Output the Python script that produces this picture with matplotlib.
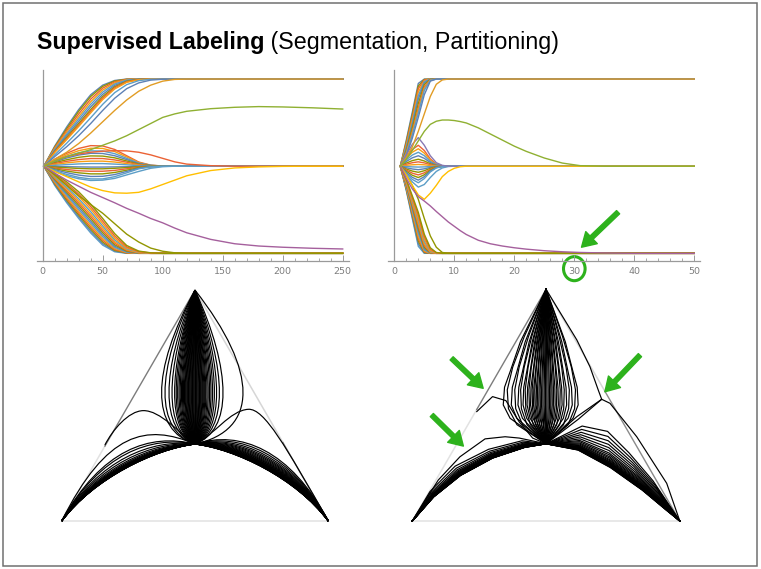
import matplotlib
matplotlib.use("Agg")
import matplotlib.pyplot as plt
from matplotlib.path import Path
from matplotlib.patches import PathPatch, Ellipse, Rectangle

W, H, DPI = 761, 569, 100

TITLE_BOLD = "Supervised Labeling"
TITLE_REST = "(Segmentation, Partitioning)"

# Mathematica default plot colours
PALETTE = ['#5E81B5', '#E19C24', '#8FB032', '#EB6235', '#8778B3', '#C56E1A',
           '#5D9EC7', '#FFBF00', '#A5609D', '#929600', '#E95536', '#6685D9',
           '#F89F13', '#BC5B80', '#47B66D']

# ---------------- smooth run: 250 iterations ----------------
TL_T_FAST = [1, 10, 20, 30, 40, 50, 60, 70, 80, 90, 100, 250]
TL_T_SLOW = [1, 10, 20, 30, 40, 50, 60, 70, 80, 90, 100, 110, 120, 140, 160, 180, 200, 225, 250]
TL_TICKS_MAJOR = [0, 50, 100, 150, 200, 250]
TL_TICKS_MINOR = [10, 20, 30, 40, 60, 70, 80, 90, 110, 120, 130, 140, 160, 170, 180, 190, 210, 220, 230, 240]

TL_UPPER = [
    [0.5, 0.615, 0.725, 0.825, 0.910, 0.965, 0.992, 1.000, 1.000, 1.000, 1.000, 1.000],
    [0.5, 0.610, 0.715, 0.815, 0.900, 0.958, 0.989, 0.999, 1.000, 1.000, 1.000, 1.000],
    [0.5, 0.605, 0.705, 0.800, 0.885, 0.948, 0.984, 0.998, 1.000, 1.000, 1.000, 1.000],
    [0.5, 0.600, 0.695, 0.785, 0.870, 0.937, 0.978, 0.996, 1.000, 1.000, 1.000, 1.000],
    [0.5, 0.595, 0.685, 0.772, 0.855, 0.925, 0.972, 0.994, 1.000, 1.000, 1.000, 1.000],
    [0.5, 0.590, 0.675, 0.758, 0.840, 0.912, 0.964, 0.990, 0.999, 1.000, 1.000, 1.000],
    [0.5, 0.585, 0.665, 0.745, 0.825, 0.900, 0.956, 0.987, 0.998, 1.000, 1.000, 1.000],
    [0.5, 0.582, 0.658, 0.736, 0.815, 0.891, 0.950, 0.984, 0.997, 1.000, 1.000, 1.000],
    [0.5, 0.578, 0.652, 0.728, 0.806, 0.882, 0.943, 0.981, 0.996, 1.000, 1.000, 1.000],
    [0.5, 0.565, 0.632, 0.703, 0.778, 0.855, 0.922, 0.968, 0.991, 0.999, 1.000, 1.000],
    [0.5, 0.555, 0.612, 0.675, 0.745, 0.820, 0.890, 0.945, 0.978, 0.994, 0.999, 1.000],
]
TL_MIDDLE = [
    [0.5, 0.540, 0.574, 0.602, 0.618, 0.616, 0.596, 0.560, 0.524, 0.506, 0.501, 0.5],
    [0.5, 0.535, 0.565, 0.589, 0.603, 0.602, 0.584, 0.553, 0.521, 0.505, 0.501, 0.5],
    [0.5, 0.530, 0.556, 0.577, 0.588, 0.587, 0.572, 0.545, 0.518, 0.505, 0.501, 0.5],
    [0.5, 0.525, 0.547, 0.564, 0.574, 0.573, 0.560, 0.538, 0.515, 0.504, 0.500, 0.5],
    [0.5, 0.520, 0.537, 0.551, 0.559, 0.558, 0.548, 0.530, 0.512, 0.503, 0.500, 0.5],
    [0.5, 0.515, 0.528, 0.538, 0.544, 0.544, 0.536, 0.523, 0.509, 0.502, 0.500, 0.5],
    [0.5, 0.510, 0.519, 0.526, 0.529, 0.529, 0.524, 0.515, 0.506, 0.502, 0.500, 0.5],
    [0.5, 0.505, 0.509, 0.513, 0.515, 0.515, 0.512, 0.508, 0.503, 0.501, 0.500, 0.5],
    [0.5, 0.498, 0.497, 0.496, 0.495, 0.495, 0.496, 0.497, 0.499, 0.500, 0.500, 0.5],
    [0.5, 0.495, 0.491, 0.487, 0.485, 0.485, 0.488, 0.492, 0.497, 0.499, 0.500, 0.5],
    [0.5, 0.490, 0.481, 0.474, 0.471, 0.471, 0.476, 0.485, 0.494, 0.498, 0.500, 0.5],
    [0.5, 0.485, 0.472, 0.462, 0.456, 0.456, 0.464, 0.477, 0.491, 0.498, 0.500, 0.5],
    [0.5, 0.480, 0.463, 0.449, 0.441, 0.442, 0.452, 0.470, 0.488, 0.497, 0.500, 0.5],
    [0.5, 0.475, 0.453, 0.436, 0.427, 0.427, 0.440, 0.462, 0.485, 0.496, 0.500, 0.5],
]
TL_LOWER = [
    [0.5, 0.390, 0.290, 0.200, 0.117, 0.047, 0.009, 0.000, 0.000, 0.000, 0.0, 0.0],
    [0.5, 0.395, 0.298, 0.210, 0.128, 0.056, 0.013, 0.001, 0.000, 0.000, 0.0, 0.0],
    [0.5, 0.400, 0.306, 0.220, 0.139, 0.065, 0.017, 0.002, 0.000, 0.000, 0.0, 0.0],
    [0.5, 0.405, 0.315, 0.230, 0.150, 0.075, 0.022, 0.003, 0.000, 0.000, 0.0, 0.0],
    [0.5, 0.410, 0.324, 0.241, 0.162, 0.085, 0.028, 0.005, 0.000, 0.000, 0.0, 0.0],
    [0.5, 0.415, 0.333, 0.252, 0.174, 0.096, 0.034, 0.007, 0.001, 0.000, 0.0, 0.0],
    [0.5, 0.420, 0.342, 0.264, 0.186, 0.107, 0.041, 0.010, 0.001, 0.000, 0.0, 0.0],
    [0.5, 0.425, 0.351, 0.276, 0.199, 0.119, 0.049, 0.013, 0.002, 0.000, 0.0, 0.0],
    [0.5, 0.430, 0.360, 0.288, 0.212, 0.131, 0.058, 0.017, 0.003, 0.000, 0.0, 0.0],
    [0.5, 0.435, 0.370, 0.300, 0.225, 0.144, 0.067, 0.021, 0.004, 0.000, 0.0, 0.0],
    [0.5, 0.440, 0.379, 0.313, 0.239, 0.157, 0.077, 0.026, 0.006, 0.001, 0.0, 0.0],
    [0.5, 0.446, 0.390, 0.327, 0.254, 0.171, 0.088, 0.031, 0.008, 0.001, 0.0, 0.0],
    [0.5, 0.452, 0.400, 0.340, 0.268, 0.185, 0.100, 0.037, 0.010, 0.002, 0.0, 0.0],
    [0.5, 0.458, 0.410, 0.353, 0.282, 0.200, 0.113, 0.045, 0.013, 0.003, 0.0, 0.0],
]
TL_SLOW_ORANGE = [0.5, 0.54, 0.58, 0.63, 0.69, 0.755, 0.82, 0.88, 0.93, 0.965, 0.988, 0.998, 1.0, 1.0, 1.0, 1.0, 1.0, 1.0, 1.0]
TL_SLOW_GREEN = [0.5, 0.53, 0.555, 0.575, 0.595, 0.62, 0.645, 0.675, 0.71, 0.745, 0.78, 0.80, 0.815, 0.83, 0.838, 0.842, 0.84, 0.835, 0.828]
TL_BUMP_RED = [0.5, 0.53, 0.555, 0.57, 0.58, 0.586, 0.589, 0.588, 0.58, 0.565, 0.545, 0.525, 0.512, 0.503, 0.5, 0.5, 0.5, 0.5, 0.5]
TL_DIP_BLUE = [0.5, 0.47, 0.445, 0.428, 0.418, 0.42, 0.43, 0.45, 0.47, 0.488, 0.497, 0.5, 0.5, 0.5, 0.5, 0.5, 0.5, 0.5, 0.5]
TL_DIP_YELLOW = [0.5, 0.47, 0.44, 0.41, 0.38, 0.36, 0.347, 0.345, 0.35, 0.37, 0.395, 0.42, 0.445, 0.475, 0.49, 0.496, 0.499, 0.5, 0.5]
TL_SLOW_MAGENTA = [0.5, 0.46, 0.42, 0.385, 0.35, 0.32, 0.29, 0.258, 0.23, 0.2, 0.175, 0.145, 0.118, 0.08, 0.055, 0.042, 0.035, 0.029, 0.025]
TL_SLOW_OLIVE = [0.5, 0.45, 0.39, 0.33, 0.28, 0.23, 0.17, 0.11, 0.065, 0.03, 0.012, 0.003, 0.0, 0.0, 0.0, 0.0, 0.0, 0.0, 0.0]

# ---------------- discrete run: 50 iterations ----------------
TR_T_FAST = [1, 2, 3, 4, 5, 6, 7, 8, 9, 10, 50]
TR_T_SLOW = [1, 2, 3, 4, 5, 6, 7, 8, 9, 10, 11, 12, 14, 16, 18, 20, 22, 25, 28, 31, 35, 40, 50]
TR_TICKS_MAJOR = [0, 10, 20, 30, 40, 50]
TR_TICKS_MINOR = [2, 4, 6, 8, 12, 14, 16, 18, 22, 24, 26, 28, 32, 34, 36, 38, 42, 44, 46, 48]

TR_UPPER = [
    [0.5, 0.65, 0.81, 0.975, 1.0, 1.0, 1.0, 1.0, 1.0, 1.0, 1.0],
    [0.5, 0.64, 0.795, 0.96, 0.998, 1.0, 1.0, 1.0, 1.0, 1.0, 1.0],
    [0.5, 0.63, 0.78, 0.945, 0.995, 1.0, 1.0, 1.0, 1.0, 1.0, 1.0],
    [0.5, 0.62, 0.765, 0.925, 0.99, 1.0, 1.0, 1.0, 1.0, 1.0, 1.0],
    [0.5, 0.61, 0.75, 0.905, 0.985, 1.0, 1.0, 1.0, 1.0, 1.0, 1.0],
    [0.5, 0.60, 0.735, 0.885, 0.978, 0.999, 1.0, 1.0, 1.0, 1.0, 1.0],
    [0.5, 0.59, 0.72, 0.86, 0.968, 0.998, 1.0, 1.0, 1.0, 1.0, 1.0],
    [0.5, 0.58, 0.70, 0.835, 0.955, 0.996, 1.0, 1.0, 1.0, 1.0, 1.0],
    [0.5, 0.575, 0.69, 0.82, 0.945, 0.994, 1.0, 1.0, 1.0, 1.0, 1.0],
    [0.5, 0.57, 0.68, 0.805, 0.935, 0.993, 1.0, 1.0, 1.0, 1.0, 1.0],
    [0.5, 0.56, 0.66, 0.78, 0.91, 0.988, 1.0, 1.0, 1.0, 1.0, 1.0],
]
TR_MIDDLE = [
    [0.5, 0.554, 0.596, 0.620, 0.590, 0.542, 0.512, 0.502, 0.5, 0.5, 0.5],
    [0.5, 0.545, 0.580, 0.600, 0.575, 0.535, 0.510, 0.502, 0.5, 0.5, 0.5],
    [0.5, 0.536, 0.564, 0.580, 0.560, 0.528, 0.508, 0.502, 0.5, 0.5, 0.5],
    [0.5, 0.527, 0.548, 0.560, 0.545, 0.521, 0.506, 0.501, 0.5, 0.5, 0.5],
    [0.5, 0.518, 0.532, 0.540, 0.530, 0.514, 0.504, 0.501, 0.5, 0.5, 0.5],
    [0.5, 0.511, 0.520, 0.525, 0.519, 0.509, 0.503, 0.500, 0.5, 0.5, 0.5],
    [0.5, 0.505, 0.508, 0.510, 0.508, 0.504, 0.501, 0.500, 0.5, 0.5, 0.5],
    [0.5, 0.498, 0.496, 0.495, 0.496, 0.498, 0.500, 0.500, 0.5, 0.5, 0.5],
    [0.5, 0.491, 0.484, 0.480, 0.485, 0.493, 0.498, 0.500, 0.5, 0.5, 0.5],
    [0.5, 0.484, 0.472, 0.465, 0.474, 0.488, 0.497, 0.499, 0.5, 0.5, 0.5],
    [0.5, 0.478, 0.460, 0.450, 0.462, 0.482, 0.495, 0.499, 0.5, 0.5, 0.5],
    [0.5, 0.471, 0.448, 0.435, 0.451, 0.477, 0.493, 0.499, 0.5, 0.5, 0.5],
    [0.5, 0.464, 0.436, 0.420, 0.440, 0.472, 0.492, 0.498, 0.5, 0.5, 0.5],
    [0.5, 0.457, 0.424, 0.405, 0.429, 0.467, 0.490, 0.498, 0.5, 0.5, 0.5],
]
TR_LOWER = [
    [0.5, 0.360, 0.200, 0.040, 0.000, 0.000, 0.000, 0.0, 0.0, 0.0, 0.0],
    [0.5, 0.365, 0.210, 0.055, 0.002, 0.000, 0.000, 0.0, 0.0, 0.0, 0.0],
    [0.5, 0.370, 0.220, 0.070, 0.005, 0.000, 0.000, 0.0, 0.0, 0.0, 0.0],
    [0.5, 0.375, 0.230, 0.085, 0.009, 0.000, 0.000, 0.0, 0.0, 0.0, 0.0],
    [0.5, 0.380, 0.240, 0.100, 0.014, 0.000, 0.000, 0.0, 0.0, 0.0, 0.0],
    [0.5, 0.385, 0.250, 0.115, 0.020, 0.001, 0.000, 0.0, 0.0, 0.0, 0.0],
    [0.5, 0.390, 0.260, 0.130, 0.027, 0.002, 0.000, 0.0, 0.0, 0.0, 0.0],
    [0.5, 0.395, 0.270, 0.145, 0.035, 0.003, 0.000, 0.0, 0.0, 0.0, 0.0],
    [0.5, 0.400, 0.280, 0.160, 0.045, 0.005, 0.000, 0.0, 0.0, 0.0, 0.0],
    [0.5, 0.405, 0.290, 0.175, 0.056, 0.008, 0.000, 0.0, 0.0, 0.0, 0.0],
    [0.5, 0.410, 0.300, 0.190, 0.068, 0.012, 0.001, 0.0, 0.0, 0.0, 0.0],
    [0.5, 0.415, 0.310, 0.205, 0.082, 0.017, 0.002, 0.0, 0.0, 0.0, 0.0],
    [0.5, 0.420, 0.320, 0.220, 0.096, 0.024, 0.003, 0.0, 0.0, 0.0, 0.0],
    [0.5, 0.425, 0.330, 0.235, 0.110, 0.032, 0.005, 0.0, 0.0, 0.0, 0.0],
]
TR_SLOW_ORANGE = [0.5, 0.55, 0.61, 0.70, 0.80, 0.90, 0.97, 0.995, 1.0, 1.0, 1.0, 1.0, 1.0, 1.0, 1.0, 1.0, 1.0, 1.0, 1.0, 1.0, 1.0, 1.0, 1.0]
TR_SLOW_GREEN = [0.5, 0.54, 0.59, 0.645, 0.70, 0.74, 0.758, 0.765, 0.765, 0.762, 0.756, 0.748, 0.72, 0.685, 0.65, 0.615, 0.585, 0.547, 0.518, 0.503, 0.5, 0.5, 0.5]
TR_DIP_YELLOW = [0.5, 0.45, 0.39, 0.335, 0.31, 0.345, 0.39, 0.44, 0.47, 0.488, 0.497, 0.5, 0.5, 0.5, 0.5, 0.5, 0.5, 0.5, 0.5, 0.5, 0.5, 0.5, 0.5]
TR_SLOW_MAGENTA = [0.5, 0.43, 0.37, 0.325, 0.30, 0.272, 0.24, 0.21, 0.18, 0.155, 0.13, 0.108, 0.075, 0.055, 0.042, 0.032, 0.024, 0.015, 0.009, 0.005, 0.002, 0.0, 0.0]
TR_BUMP_PURPLE = [0.5, 0.565, 0.625, 0.664, 0.62, 0.56, 0.52, 0.505, 0.5, 0.5, 0.5]
TR_DIP_BLUE = [0.5, 0.45, 0.41, 0.38, 0.395, 0.435, 0.47, 0.49, 0.498, 0.5, 0.5]
TR_FAST_OLIVE = [0.5, 0.45, 0.39, 0.31, 0.20, 0.10, 0.035, 0.005, 0.0, 0.0, 0.0]

# ---------------- simplex trajectories (unit triangle) ----------------
VERT_L = (0.0, 0.0)
VERT_R = (1.0, 0.0)
VERT_T = (0.5, 0.866)
CENTER = (0.5, 0.2887)

# smooth run: spindle towards the top label (sideways bulge per trajectory)
LT_SPINDLE_W = [-0.167, -0.15, -0.13, -0.115, -0.102, -0.094, -0.087, -0.08, -0.074, -0.068,
                -0.063, -0.058, -0.053, -0.049, -0.045, -0.041, -0.037, -0.033, -0.029, -0.025,
                -0.021, -0.017, -0.013, -0.009, -0.005, -0.001, 0.003, 0.007, 0.011, 0.015,
                0.019, 0.023, 0.027, 0.031, 0.035, 0.039, 0.044, 0.049, 0.054, 0.06,
                0.066, 0.073, 0.08, 0.088, 0.097, 0.108, 0.122, 0.14, 0.24]
LT_SPINDLE_CTRL_Y = [0.34, 0.56]
# arches to the lower labels: low and high control polygons, with per-trajectory blend
LT_LBAND_LO = [(0.35, 0.27), (0.12, 0.16)]
LT_LBAND_HI = [(0.33, 0.33), (0.15, 0.27)]
LT_LBAND_S = [0.0, 0.005, 0.01, 0.015, 0.02, 0.025, 0.03, 0.035, 0.04, 0.045, 0.05, 0.055,
              0.06, 0.07, 0.08, 0.09, 0.1, 0.12, 0.14, 0.17, 0.2, 0.24, 0.3, 0.38, 0.5,
              0.65, 0.85, 1.0, 1.6]
LT_RBAND_LO = [(0.65, 0.27), (0.88, 0.16)]
LT_RBAND_HI = [(0.67, 0.34), (0.86, 0.26)]
LT_RBAND_S = [0.0, 0.007, 0.014, 0.021, 0.028, 0.035, 0.043, 0.051, 0.06, 0.07, 0.08, 0.09,
              0.1, 0.12, 0.14, 0.16, 0.18, 0.21, 0.24, 0.28, 0.32, 0.37, 0.42, 0.48, 0.55,
              0.62, 0.7, 0.8, 0.92, 1.05]
# two-piece Bezier outliers
LT_OUT_LEFT = [CENTER, (0.44, 0.33), (0.37, 0.415), (0.306, 0.414), (0.25, 0.413), (0.19, 0.34), (0.162, 0.285)]
LT_OUT_RIGHT = [CENTER, (0.57, 0.32), (0.63, 0.415), (0.70, 0.419), (0.76, 0.423), (0.84, 0.28), VERT_R]
LT_EDGE_JOIN_L = (0.162, 0.281)
LT_EDGE_JOIN_R = (0.83, 0.294)

# discrete run: polygonal trajectories (two step patterns used alternately)
RT_SPINDLE_Y = [[0.2887, 0.384, 0.434, 0.5, 0.558, 0.67, 0.866],
                [0.2887, 0.36, 0.42, 0.49, 0.575, 0.69, 0.866]]
RT_SPINDLE_F = [[0.0, 0.84, 1.0, 0.97, 0.84, 0.6, 0.0],
                [0.0, 0.75, 0.97, 1.0, 0.86, 0.56, 0.0]]
RT_SPINDLE_W = [-0.16, -0.145, -0.13, -0.117, -0.105, -0.095, -0.086, -0.078, -0.071, -0.064,
                -0.058, -0.052, -0.047, -0.042, -0.037, -0.032, -0.027, -0.022, -0.017, -0.012,
                -0.007, -0.002, 0.003, 0.008, 0.013, 0.018, 0.023, 0.028, 0.034, 0.04,
                0.046, 0.053, 0.06, 0.068, 0.077, 0.087, 0.098, 0.11, 0.12]
RT_LBAND_LO = [CENTER, (0.42, 0.275), (0.30, 0.235), (0.18, 0.17), (0.08, 0.09), VERT_L]
RT_LBAND_HI = [CENTER, (0.41, 0.30), (0.285, 0.268), (0.16, 0.205), (0.066, 0.11), VERT_L]
RT_LBAND_S = [0.0, 0.008, 0.016, 0.024, 0.032, 0.04, 0.05, 0.06, 0.07, 0.08, 0.09, 0.1,
              0.12, 0.14, 0.17, 0.2, 0.24, 0.29, 0.35, 0.42, 0.5, 0.62, 0.78, 1.0]
RT_RBAND_LO = [CENTER, (0.62, 0.265), (0.74, 0.2), (0.86, 0.115), (0.95, 0.04), VERT_R]
RT_RBAND_HI = [CENTER, (0.635, 0.355), (0.73, 0.335), (0.81, 0.255), (0.90, 0.15), VERT_R]
RT_RBAND_S = [0.0, 0.008, 0.016, 0.024, 0.032, 0.04, 0.05, 0.06, 0.07, 0.08, 0.09, 0.1,
              0.12, 0.14, 0.16, 0.19, 0.22, 0.26, 0.3, 0.35, 0.4, 0.47, 0.55, 0.64, 0.74,
              0.86, 1.0]
RT_OUTLIERS = [
    [CENTER, (0.45, 0.31), (0.40, 0.37), (0.35, 0.45), (0.30, 0.465), (0.241, 0.409)],
    [CENTER, (0.40, 0.31), (0.347, 0.315), (0.272, 0.307), (0.178, 0.24), (0.097, 0.153), VERT_L],
    [CENTER, (0.615, 0.39), (0.708, 0.455), (0.695, 0.49), (0.664, 0.577), (0.615, 0.677), VERT_T],
    [CENTER, (0.62, 0.38), (0.708, 0.455), (0.739, 0.44), (0.839, 0.315), (0.951, 0.141), VERT_R],
]
RT_EDGE_JOIN_L = (0.241, 0.417)
RT_EDGE_JOIN_R = (0.72, 0.485)

# annotation marks (in the coordinates of the panel they sit on)
ARROW_TR = ((37.3, 0.236), (31.2, 0.035))
RING_TR = (30.0, -0.088)
ARROWS_RT = [((0.147, 0.608), (0.265, 0.496)),
             ((0.073, 0.396), (0.191, 0.28)),
             ((0.851, 0.62), (0.72, 0.483))]

GREEN = '#2DB21C'
AXIS_GRAY = '#9a9a9a'
LABEL_GRAY = '#7d7d7d'
TRAJ_LW = 0.85

fig = plt.figure(figsize=(W / DPI, H / DPI), dpi=DPI)
fig.patch.set_facecolor('white')


def px_rect(x0, y0, x1, y1):
    return [x0 / W, 1 - y1 / H, (x1 - x0) / W, (y1 - y0) / H]


def style_series_axes(ax, xlim, major, minor):
    ax.set_xlim(*xlim)
    ax.set_ylim(-0.044, 1.052)
    ax.patch.set_alpha(0)
    for side in ('top', 'right'):
        ax.spines[side].set_visible(False)
    ax.spines['left'].set_position(('data', 0))
    for side in ('left', 'bottom'):
        ax.spines[side].set_color(AXIS_GRAY)
        ax.spines[side].set_linewidth(0.9)
    ax.tick_params(axis='y', left=False, labelleft=False)
    ax.set_xticks(major)
    ax.set_xticks(minor, minor=True)
    ax.tick_params(axis='x', which='major', direction='in', length=4, width=0.7,
                   color=AXIS_GRAY, labelsize=6.8, labelcolor=LABEL_GRAY, pad=4)
    ax.tick_params(axis='x', which='minor', direction='in', length=2.2, width=0.6,
                   color=AXIS_GRAY)


def draw_series(ax, t_fast, upper, middle, lower, specials):
    bundle = []
    n = max(len(upper), len(middle), len(lower))
    for i in range(n):
        for group in (upper, middle, lower):
            if i < len(group):
                bundle.append(group[i])
    for i, vals in enumerate(bundle):
        ax.plot(t_fast, vals, color=PALETTE[(3 * i) % len(PALETTE)], lw=1.0)
    for times, vals, color in specials:
        ax.plot(times, vals, color=color, lw=1.0)


ax_tl = fig.add_axes(px_rect(36.7, 70, 348.7, 261))
style_series_axes(ax_tl, (-5, 255), TL_TICKS_MAJOR, TL_TICKS_MINOR)
draw_series(ax_tl, TL_T_FAST, TL_UPPER, TL_MIDDLE, TL_LOWER, [
    (TL_T_SLOW, TL_SLOW_OLIVE, '#929600'),
    (TL_T_SLOW, TL_DIP_BLUE, '#5D9EC7'),
    (TL_T_SLOW, TL_BUMP_RED, '#EB6235'),
    (TL_T_SLOW, TL_SLOW_ORANGE, '#E19C24'),
    (TL_T_SLOW, TL_DIP_YELLOW, '#FFBF00'),
    (TL_T_SLOW, TL_SLOW_MAGENTA, '#A5609D'),
    (TL_T_SLOW, TL_SLOW_GREEN, '#8FB032'),
])

ax_tr = fig.add_axes(px_rect(388.3, 70, 700.3, 261))
style_series_axes(ax_tr, (-1, 51), TR_TICKS_MAJOR, TR_TICKS_MINOR)
draw_series(ax_tr, TR_T_FAST, TR_UPPER, TR_MIDDLE, TR_LOWER, [
    (TR_T_FAST, TR_FAST_OLIVE, '#929600'),
    (TR_T_FAST, TR_DIP_BLUE, '#5D9EC7'),
    (TR_T_FAST, TR_BUMP_PURPLE, '#8778B3'),
    (TR_T_SLOW, TR_SLOW_ORANGE, '#E19C24'),
    (TR_T_SLOW, TR_DIP_YELLOW, '#FFBF00'),
    (TR_T_SLOW, TR_SLOW_MAGENTA, '#A5609D'),
    (TR_T_SLOW, TR_SLOW_GREEN, '#8FB032'),
])

ring = Ellipse(RING_TR, width=3.6, height=0.138, fill=False, ec=GREEN, lw=2.2, clip_on=False)
ax_tr.add_patch(ring)


def green_arrow(ax, tail, head):
    ax.annotate('', xy=head, xytext=tail, xycoords='data', textcoords='data',
                annotation_clip=False,
                arrowprops=dict(arrowstyle='simple,head_width=1.2,head_length=1.0,tail_width=0.32',
                                color=GREEN, mutation_scale=10, shrinkA=0, shrinkB=0))


green_arrow(ax_tr, *ARROW_TR)


# ---- simplex panels ----
def simplex_axes(x_left, y_base, scale):
    pad = 0.03
    x0 = x_left - pad * scale
    x1 = x_left + (1 + pad) * scale
    y1 = y_base + pad * scale
    y0 = y_base - (0.866 + pad) * scale
    ax = fig.add_axes(px_rect(x0, y0, x1, y1))
    ax.set_xlim(-pad, 1 + pad)
    ax.set_ylim(-pad, 0.866 + pad)
    ax.axis('off')
    ax.patch.set_alpha(0)
    return ax


def draw_edges(ax, join_l, join_r):
    light, dark = '#e2e2e2', '#7c7c7c'
    ax.plot([VERT_L[0], VERT_R[0]], [VERT_L[1], VERT_R[1]], color=light, lw=1.1, zorder=1)
    ax.plot([VERT_L[0], join_l[0]], [VERT_L[1], join_l[1]], color=light, lw=1.1, zorder=1)
    ax.plot([join_l[0], VERT_T[0]], [join_l[1], VERT_T[1]], color=dark, lw=1.0, zorder=1)
    ax.plot([VERT_T[0], join_r[0]], [VERT_T[1], join_r[1]], color='#d6d6d6', lw=1.1, zorder=1)
    ax.plot([join_r[0], VERT_R[0]], [join_r[1], VERT_R[1]], color='#8a8a8a', lw=1.0, zorder=1)


def bezier(ax, pts):
    codes = [Path.MOVETO] + [Path.CURVE4] * (len(pts) - 1)
    ax.add_patch(PathPatch(Path(pts, codes), fill=False, ec='black', lw=TRAJ_LW, zorder=2))


def polyline(ax, pts):
    ax.plot([p[0] for p in pts], [p[1] for p in pts], color='black', lw=TRAJ_LW, zorder=2)


def blend(lo, hi, s):
    return [(a[0] + s * (b[0] - a[0]), a[1] + s * (b[1] - a[1])) for a, b in zip(lo, hi)]


ax_lt = simplex_axes(61.7, 521, 266.6)
draw_edges(ax_lt, LT_EDGE_JOIN_L, LT_EDGE_JOIN_R)
for w in LT_SPINDLE_W:
    bezier(ax_lt, [CENTER, (0.5 + w, LT_SPINDLE_CTRL_Y[0]), (0.5 + w, LT_SPINDLE_CTRL_Y[1]), VERT_T])
for s in LT_LBAND_S:
    bezier(ax_lt, [CENTER] + blend(LT_LBAND_LO, LT_LBAND_HI, s) + [VERT_L])
for s in LT_RBAND_S:
    bezier(ax_lt, [CENTER] + blend(LT_RBAND_LO, LT_RBAND_HI, s) + [VERT_R])
bezier(ax_lt, LT_OUT_LEFT)
bezier(ax_lt, LT_OUT_RIGHT)

ax_rt = simplex_axes(412.3, 521, 267.5)
draw_edges(ax_rt, RT_EDGE_JOIN_L, RT_EDGE_JOIN_R)
for i, w in enumerate(RT_SPINDLE_W):
    ys, fs_ = RT_SPINDLE_Y[i % 2], RT_SPINDLE_F[i % 2]
    polyline(ax_rt, [(0.5 + w * f, y) for f, y in zip(fs_, ys)])
for s in RT_LBAND_S:
    polyline(ax_rt, blend(RT_LBAND_LO, RT_LBAND_HI, s))
for s in RT_RBAND_S:
    polyline(ax_rt, blend(RT_RBAND_LO, RT_RBAND_HI, s))
for pts in RT_OUTLIERS:
    polyline(ax_rt, pts)
for tail, head in ARROWS_RT:
    green_arrow(ax_rt, tail, head)

# ---- slide title and frame ----
renderer = fig.canvas.get_renderer()
fs = 15.0
for _ in range(3):
    for t in list(fig.texts):
        t.remove()
    t1 = fig.text(37 / W, 1 - 49 / H, TITLE_BOLD, fontsize=fs, fontweight='bold',
                  family='Liberation Sans', va='baseline', ha='left')
    bb1 = t1.get_window_extent(renderer)
    t2 = fig.text(bb1.x1 / W, 1 - 49 / H, ' ' + TITLE_REST, fontsize=fs,
                  family='Liberation Sans', va='baseline', ha='left')
    bb2 = t2.get_window_extent(renderer)
    fs = fs * (561 - 37) / (bb2.x1 - bb1.x0)

fig.add_artist(Rectangle((3 / W, 1 - 566 / H), 754 / W, 563 / H, transform=fig.transFigure,
                         fill=False, ec='#707070', lw=1.1))

fig.savefig('out.png', dpi=DPI, facecolor='white')
